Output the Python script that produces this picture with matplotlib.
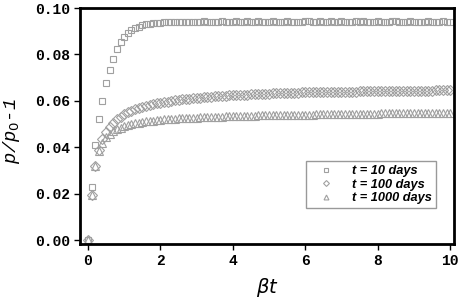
import numpy as np
import matplotlib
matplotlib.use("Agg")
import matplotlib.pyplot as plt

# beta*t grid, 0 .. 10 in steps of 0.1
bt = np.linspace(0, 10, 101)

# t = 10 days
p10 = [0.0, 0.023, 0.041, 0.052, 0.060, 0.0675, 0.0733, 0.078, 0.0822, 0.0852,
       0.0876, 0.0893, 0.0905, 0.0913, 0.0920, 0.0925, 0.0929, 0.0932, 0.0934, 0.0936,
       0.0937, 0.0938, 0.0939, 0.0939, 0.0940, 0.0939, 0.0941, 0.0940, 0.0940, 0.0941,
       0.0940, 0.0941, 0.0942, 0.0940, 0.0941, 0.0941, 0.0940, 0.0942, 0.0941, 0.0940,
       0.0941, 0.0942, 0.0940, 0.0941, 0.0943, 0.0941, 0.0940, 0.0942, 0.0941, 0.0940,
       0.0941, 0.0943, 0.0941, 0.0940, 0.0941, 0.0942, 0.0941, 0.0940, 0.0941, 0.0941,
       0.0943, 0.0942, 0.0941, 0.0940, 0.0942, 0.0941, 0.0941, 0.0943, 0.0941, 0.0940,
       0.0942, 0.0941, 0.0940, 0.0941, 0.0942, 0.0941, 0.0943, 0.0941, 0.0940, 0.0941,
       0.0942, 0.0941, 0.0940, 0.0941, 0.0943, 0.0942, 0.0941, 0.0940, 0.0941, 0.0942,
       0.0941, 0.0940, 0.0941, 0.0941, 0.0942, 0.0941, 0.0940, 0.0941, 0.0942, 0.0941,
       0.0941]

# t = 100 days
p100 = [0.0, 0.0195, 0.032, 0.039, 0.0435, 0.0465, 0.0488, 0.0506, 0.0520, 0.0532,
        0.0542, 0.0550, 0.0557, 0.0563, 0.0569, 0.0574, 0.0578, 0.0582, 0.0586, 0.0589,
        0.0592, 0.0595, 0.0597, 0.0600, 0.0602, 0.0604, 0.0606, 0.0608, 0.0610, 0.0611,
        0.0613, 0.0614, 0.0616, 0.0617, 0.0618, 0.0619, 0.0620, 0.0621, 0.0622, 0.0623,
        0.0624,
        0.0625, 0.0626, 0.0627, 0.0627, 0.0628,
        0.0629, 0.0629, 0.0630, 0.0631, 0.0631,
        0.0632, 0.0632, 0.0633, 0.0633, 0.0634,
        0.0634, 0.0635, 0.0635, 0.0636, 0.0636,
        0.0636, 0.0637, 0.0637, 0.0637, 0.0638,
        0.0638, 0.0638, 0.0639, 0.0639, 0.0639,
        0.0640, 0.0640, 0.0640, 0.0640, 0.0641,
        0.0641, 0.0641, 0.0641, 0.0642, 0.0642,
        0.0642, 0.0642, 0.0642, 0.0643, 0.0643,
        0.0643, 0.0643, 0.0643, 0.0643, 0.0644,
        0.0644, 0.0644, 0.0644, 0.0644, 0.0644,
        0.0645, 0.0645, 0.0645, 0.0645, 0.0645]

# t = 1000 days
p1000 = [0.0, 0.0195, 0.032, 0.0385, 0.0420, 0.0443, 0.0458, 0.0469, 0.0478, 0.0485,
         0.0491, 0.0496, 0.0500, 0.0503, 0.0506, 0.0509, 0.0511, 0.0513, 0.0515, 0.0517,
         0.0518,
         0.0520, 0.0521, 0.0522, 0.0523, 0.0524,
         0.0525, 0.0526, 0.0527, 0.0527, 0.0528,
         0.0529, 0.0529, 0.0530, 0.0531, 0.0531,
         0.0532, 0.0532, 0.0533, 0.0533, 0.0534,
         0.0534, 0.0535, 0.0535, 0.0535, 0.0536,
         0.0536, 0.0537, 0.0537, 0.0537, 0.0538,
         0.0538, 0.0538, 0.0539, 0.0539, 0.0539,
         0.0540, 0.0540, 0.0540, 0.0541, 0.0541,
         0.0541, 0.0541, 0.0542, 0.0542, 0.0542,
         0.0542, 0.0543, 0.0543, 0.0543, 0.0543,
         0.0544, 0.0544, 0.0544, 0.0544, 0.0544,
         0.0545, 0.0545, 0.0545, 0.0545, 0.0545,
         0.0546, 0.0546, 0.0546, 0.0546, 0.0546,
         0.0546, 0.0546, 0.0547, 0.0547, 0.0547,
         0.0547, 0.0547, 0.0547, 0.0547, 0.0547,
         0.0548, 0.0548, 0.0548, 0.0548, 0.0548]

labels = ["t = 10 days", "t = 100 days", "t = 1000 days"]
xticks = [0, 2, 4, 6, 8, 10]
yticks = [0.00, 0.02, 0.04, 0.06, 0.08, 0.10]

gray = "#a0a0a0"
mono = "Liberation Mono"

fig = plt.figure(figsize=(4.63, 3.0), dpi=100)
ax = fig.add_axes([0.1728, 0.1867, 0.808, 0.7866])

ax.plot(bt, p10, ls="none", marker="s", ms=4.8, mfc="none", mec=gray, mew=0.8, label=labels[0])
ax.plot(bt, p100, ls="none", marker="D", ms=4.6, mfc="none", mec=gray, mew=0.8, label=labels[1])
ax.plot(bt, p1000, ls="none", marker="^", ms=5.4, mfc="none", mec=gray, mew=0.8, label=labels[2])

ax.set_xlim(-0.22, 10.11)
ax.set_ylim(-0.0017, 0.1)
ax.set_xticks(xticks)
ax.set_yticks(yticks)
ax.set_xticklabels([str(v) for v in xticks], fontfamily=mono, fontweight="bold", fontsize=10.5)
ax.set_yticklabels(["%.2f" % v for v in yticks], fontfamily=mono, fontweight="bold", fontsize=10.5)
ax.tick_params(direction="out", length=4, width=1, pad=3)

for side in ["top", "right", "bottom", "left"]:
    ax.spines[side].set_linewidth(2)

ax.set_xlabel(r"$\beta t$", fontsize=14, fontfamily=mono, labelpad=6)
ax.set_ylabel(r"p/p$_\mathit{0}$-1", fontsize=13.5, fontfamily=mono, style="italic")
ax.yaxis.set_label_coords(-0.155, 0.48)

leg = ax.legend(loc="lower right", bbox_to_anchor=(0.952, 0.1525),
                prop={"family": "Liberation Sans", "weight": "bold", "style": "italic", "size": 9.2},
                frameon=True, fancybox=False, markerscale=0.65, handletextpad=0.9,
                borderpad=0.3, labelspacing=0.12, handlelength=2.4, borderaxespad=0)
leg.get_frame().set_edgecolor("#808080")
leg.get_frame().set_linewidth(1)

fig.savefig("out.png", dpi=100)
